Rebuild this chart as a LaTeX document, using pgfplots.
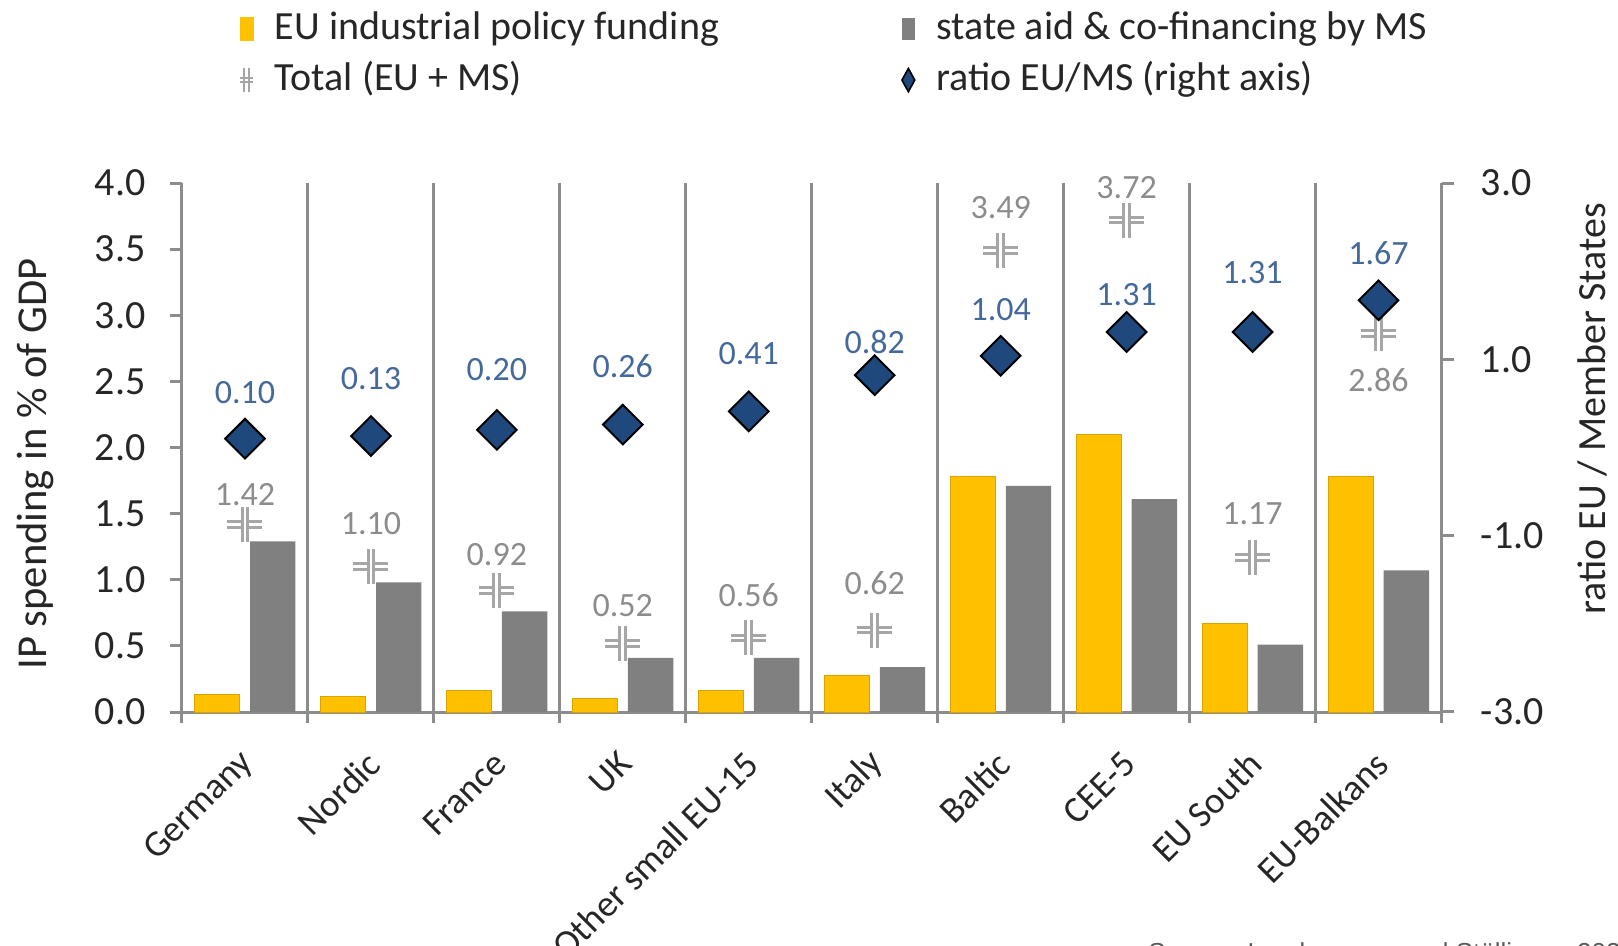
\documentclass[border=0pt]{standalone}
\usepackage{pgfplots}
\pgfplotsset{compat=1.18}
\usepackage{pgfplotstable}
\usepackage{fontspec}
\setmainfont{Carlito}
\newfontfamily\srcfont{Liberation Sans}

\definecolor{euyellow}{HTML}{FFC000}
\definecolor{msgray}{HTML}{808080}
\definecolor{axisgray}{HTML}{8C8C8C}
\definecolor{totgray}{HTML}{A6A6A6}
\definecolor{totlab}{HTML}{8C8C8C}
\definecolor{ratlab}{HTML}{44699B}
\definecolor{ratblue}{HTML}{1F497D}
\definecolor{txt}{HTML}{262626}
\definecolor{srcgray}{HTML}{595959}

\newcommand\bigf{\fontsize{20}{24}\selectfont}
\newcommand\catf{\fontsize{18.5}{22}\selectfont}
\newcommand\labf{\fontsize{17}{20}\selectfont}

% tdy / rdy: vertical offset of the value labels (pt)
\pgfplotstableread{
x eu   ms   total tdy   ratio rdy
0 0.13 1.29 1.42  15.0  0.10  22.9
1 0.12 0.98 1.10  21.5  0.13  28.5
2 0.16 0.76 0.92  18.0  0.20  30.0
3 0.10 0.41 0.52  19.0  0.26  29.3
4 0.16 0.41 0.56  21.5  0.41  28.7
5 0.28 0.34 0.62  23.5  0.82  16.4
6 1.78 1.71 3.49  21.5  1.04  23.2
7 2.10 1.61 3.72  16.0  1.31  18.5
8 0.67 0.51 1.17  22.0  1.31  29.5
9 1.78 1.07 2.86 -23.0  1.67  23.5
}\ipdata

\begin{document}
\begin{tikzpicture}
\begin{axis}[
  at={(91pt,-356pt)}, anchor=south west,
  scale only axis, width=629.75pt, height=264.5pt,
  xmin=-0.5, xmax=9.5, ymin=0, ymax=4,
  clip=false,
  axis x line*=bottom, axis y line*=left,
  axis line style={axisgray, line width=1.5pt},
  tick align=outside,
  major tick length=6pt, minor tick length=5.5pt,
  tick style={axisgray, line width=1.5pt},
  major x tick style={draw=none},
  xtick={0,...,9},
  xticklabels={Germany,Nordic,France,UK,Other small EU-15,Italy,Baltic,CEE-5,EU South,EU-Balkans},
  minor xtick={-0.5,0.5,...,9.5},
  xminorgrids=true,
  minor grid style={axisgray, line width=1.5pt},
  ytick={0,0.5,...,4},
  yticklabels={0.0,0.5,1.0,1.5,2.0,2.5,3.0,3.5,4.0},
  tick label style={font=\bigf, text=txt},
  yticklabel style={inner sep=0pt, xshift=-12pt},
  xticklabel style={xshift=4pt, yshift=-14.5pt, rotate=45, anchor=east, font=\catf},
  ylabel={IP spending in \% of GDP},
  every axis y label/.style={at={(axis description cs:-0.1167,0.469)}, rotate=90, anchor=center,
    font=\fontsize{21.3}{25}\selectfont, text=txt},
  legend columns=2,
  legend cell align=left,
  legend style={
    at={(axis description cs:0.04526,1.325)}, anchor=north west,
    draw=none, fill=none, inner sep=0pt, outer sep=0pt,
    font=\bigf, text=txt,
    row sep=7.5pt, column sep=0pt,
    nodes={inner sep=0pt, text height=14pt, text depth=4pt},
    /tikz/every odd column/.append style={column sep=10.3pt},
    /tikz/column 2/.style={column sep=91pt},
  },
]
\addplot[ybar, bar width=22.7pt, bar shift=-13.9pt, fill=euyellow, draw=euyellow!85!black, line width=0.4pt,
  legend image code/.code={\fill[euyellow] (0pt,-5.6pt) rectangle (6.7pt,5.6pt);}]
  table[x=x, y=eu] {\ipdata};
\addlegendentry{EU industrial policy funding}
\addplot[ybar, bar width=22.7pt, bar shift=13.9pt, fill=msgray, draw=none,
  legend image code/.code={\fill[msgray] (0pt,-5.6pt) rectangle (6.7pt,5.6pt);}]
  table[x=x, y=ms] {\ipdata};
\addlegendentry{state aid \& co-financing by MS}
% total: double-lined cross, horizontal bar then vertical bar
\addplot[only marks, mark=-, mark size=8.75pt, totgray, line width=4.4pt,
  legend image code/.code={
    \draw[totgray, line width=1pt] (2.2pt,-6pt)--(2.2pt,6pt) (4.4pt,-6pt)--(4.4pt,6pt)
      (0pt,-1.1pt)--(6.6pt,-1.1pt) (0pt,1.1pt)--(6.6pt,1.1pt);}]
  table[x=x, y=total] {\ipdata};
\addlegendentry{Total (EU + MS)}
\addplot[only marks, mark=-, mark size=8.75pt, white, line width=1.4pt, forget plot]
  table[x=x, y=total] {\ipdata};
\addplot[only marks, mark=|, mark size=8.75pt, totgray, line width=4.4pt, forget plot]
  table[x=x, y=total] {\ipdata};
\addplot[only marks, mark=|, mark size=8.75pt, white, line width=1.4pt, forget plot,
  point meta=y,
  nodes near coords={\pgfmathprintnumber[fixed,fixed zerofill,precision=2,assume math mode=true]{\pgfplotspointmeta}},
  visualization depends on={\thisrow{tdy} \as \tdy},
  every node near coord/.append style={anchor=center, yshift=\tdy pt, inner sep=0pt, font=\labf, text=totlab},
  ] table[x=x, y=total] {\ipdata};
\addlegendimage{legend image code/.code={\draw[black, fill=ratblue, line width=0.8pt] (3.2pt,-5.8pt)--(6.4pt,0pt)--(3.2pt,5.8pt)--(0pt,0pt)--cycle;}}
\addlegendentry{ratio EU/MS (right axis)}
\end{axis}

\begin{axis}[
  at={(91pt,-356pt)}, anchor=south west,
  scale only axis, width=629.75pt, height=264.5pt,
  xmin=-0.5, xmax=9.5, ymin=-3, ymax=3,
  clip=false,
  axis x line=none, axis y line*=right,
  axis line style={axisgray, line width=1.5pt},
  tick align=outside, major tick length=6pt,
  tick style={axisgray, line width=1.5pt},
  ytick={-3,-1,1,3}, yticklabels={-3.0,-1.0,1.0,3.0},
  tick label style={font=\bigf, text=txt},
  yticklabel style={inner sep=0pt, xshift=13.5pt},
  ylabel={ratio EU / Member States},
  every axis y label/.style={at={(axis description cs:1.1195,0.573)}, rotate=90, anchor=center, font=\bigf, text=txt},
]
\addplot[only marks, mark=square*, mark size=7pt,
  mark options={rotate=45, fill=ratblue, draw=black, line width=1pt},
  point meta=y,
  nodes near coords={\pgfmathprintnumber[fixed,fixed zerofill,precision=2,assume math mode=true]{\pgfplotspointmeta}},
  visualization depends on={\thisrow{rdy} \as \rdy},
  every node near coord/.append style={anchor=center, yshift=\rdy pt, inner sep=0pt, font=\labf, text=ratlab},
  ] table[x=x, y=ratio] {\ipdata};
\end{axis}

\node[anchor=base west, inner sep=0pt, font=\srcfont\fontsize{13}{15}\selectfont, text=srcgray]
  at (574pt,-480.5pt) {Source: Landesmann and Stöllinger, 2020};

\pgfresetboundingbox
\path[use as bounding box] (0pt,0pt) rectangle (809pt,-473pt);
\end{tikzpicture}
\end{document}
